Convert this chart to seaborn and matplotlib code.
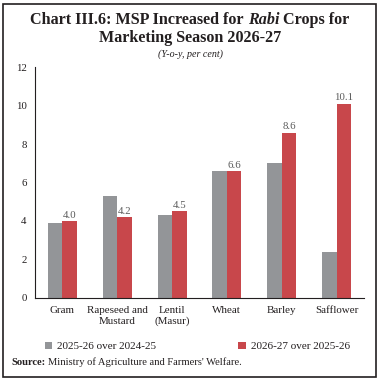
import matplotlib
matplotlib.use("Agg")
import matplotlib.pyplot as plt
import seaborn as sns
import pandas as pd
from matplotlib.patches import Rectangle, Patch

# ---- data ----
categories = ["Gram", "Rapeseed and\nMustard", "Lentil\n(Masur)", "Wheat", "Barley", "Safflower"]
series_names = ["2025-26 over 2024-25", "2026-27 over 2025-26"]
values_2025 = [3.9, 5.3, 4.3, 6.6, 7.0, 2.4]
values_2026 = [4.0, 4.2, 4.5, 6.6, 8.6, 10.1]
y_ticks = [0, 2, 4, 6, 8, 10, 12]

GRAY = "#939598"
RED = "#C8474B"
TXT = "#231f20"
SERIF = "Liberation Serif"

df = pd.DataFrame({
    "crop": categories * 2,
    "series": [series_names[0]] * len(categories) + [series_names[1]] * len(categories),
    "value": values_2025 + values_2026,
})

sns.set_style("white")
plt.rcParams["font.family"] = [SERIF, "DejaVu Serif"]

W, H = 380, 382
fig = plt.figure(figsize=(W / 100, H / 100), dpi=100)
ax = fig.add_axes([35 / W, (H - 297.7) / H, (364 - 35) / W, (297.7 - 67.3) / H])

sns.barplot(data=df, x="crop", y="value", hue="series", order=categories,
            hue_order=series_names, palette=[GRAY, RED], width=0.53, gap=0,
            linewidth=0, saturation=1, ax=ax, legend=True)

ax.get_legend().remove()

# value labels on red bars
red_container = ax.containers[1]
ax.bar_label(red_container, labels=[f"{v:.1f}" for v in values_2026], padding=1,
             fontsize=7.8, color="#5a5a5a", family=SERIF)

ax.set_ylim(0, 12)
ax.set_xlim(-0.5, len(categories) - 0.5)
ax.set_yticks(y_ticks)
ax.set_yticklabels([str(t) for t in y_ticks], fontsize=7.8, color=TXT)
ax.set_xlabel("")
ax.set_ylabel("")
ax.tick_params(axis="x", which="major", length=0, pad=6, labelsize=7.9, labelcolor=TXT)
ax.set_xticks([i - 0.5 for i in range(len(categories) + 1)], minor=True)
ax.tick_params(axis="x", which="minor", length=4, width=0.8, color=TXT, direction="out")
ax.tick_params(axis="y", which="major", length=4, width=0.8, color=TXT, direction="out", pad=2)
for lab in ax.get_xticklabels():
    lab.set_linespacing(1.25)
for s in ["top", "right"]:
    ax.spines[s].set_visible(False)
for s in ["left", "bottom"]:
    ax.spines[s].set_color(TXT)
    ax.spines[s].set_linewidth(0.8)

# legend
leg_handles = [Patch(facecolor=GRAY, edgecolor="none"), Patch(facecolor=RED, edgecolor="none")]
fig.legend(leg_handles, series_names, loc="center left", bbox_to_anchor=(45 / W, 1 - 346.5 / H),
           ncol=2, frameon=False, fontsize=8.0, handlelength=0.65, handleheight=0.65,
           handletextpad=0.45, columnspacing=7.4, borderpad=0, borderaxespad=0,
           labelcolor=TXT)

# title with mixed styles on line 1
renderer = fig.canvas.get_renderer()
t_size = 11.6
pieces = [("Chart III.6: MSP Increased for ", "normal"), ("Rabi", "italic"), (" Crops for", "normal")]
texts = []
for s, st in pieces:
    t = fig.text(0, 1 - 20 / H, s, fontsize=t_size, fontweight="bold", style=st,
                 color=TXT, va="center", ha="left", family=SERIF)
    texts.append(t)
widths = [t.get_window_extent(renderer).width for t in texts]
total = sum(widths)
x0 = 190 - total / 2
for t, w in zip(texts, widths):
    t.set_x(x0 / W)
    x0 += w
fig.text(190 / W, 1 - 37.5 / H, "Marketing Season 2026-27", fontsize=t_size, fontweight="bold",
         color=TXT, ha="center", va="center", family=SERIF)
fig.text(190 / W, 1 - 54 / H, "(Y-o-y, per cent)", fontsize=7.2, style="italic",
         color=TXT, ha="center", va="center", family=SERIF)

# source
s1 = fig.text(11 / W, 1 - 362.5 / H, "Source:", fontsize=7.6, fontweight="bold",
              color=TXT, ha="left", va="center", family=SERIF)
w1 = s1.get_window_extent(renderer).width
fig.text((11 + w1 + 2.5) / W, 1 - 362.5 / H, "Ministry of Agriculture and Farmers' Welfare.",
         fontsize=7.6, color=TXT, ha="left", va="center", family=SERIF)

# border frame
fig.patches.append(Rectangle((3.5 / W, 5 / H), (376 - 3.5) / W, (378 - 5) / H,
                             transform=fig.transFigure, fill=False, edgecolor=TXT,
                             linewidth=1.2))

fig.savefig("out.png", dpi=100)
